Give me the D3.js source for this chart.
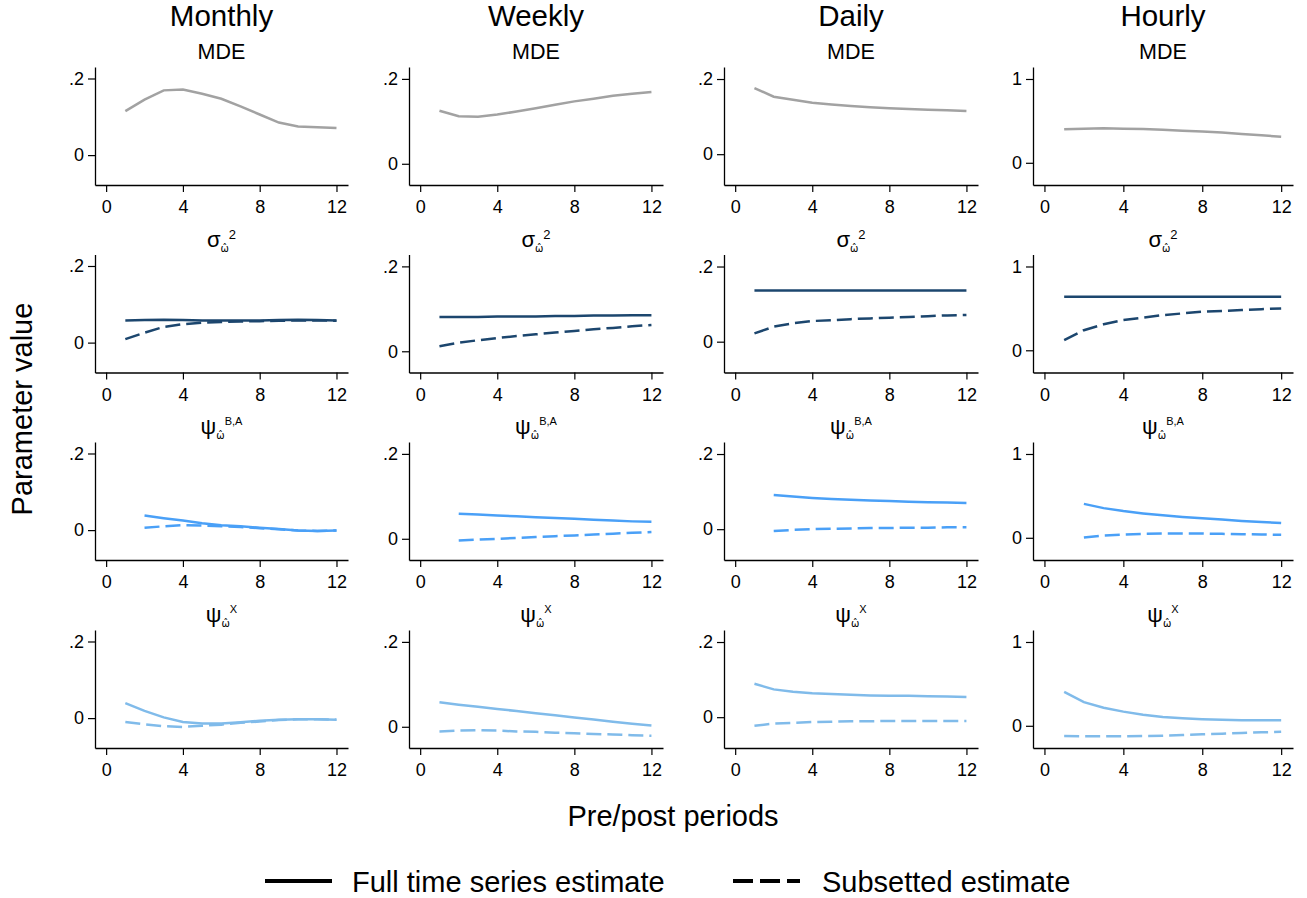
<!DOCTYPE html>
<html>
<head>
<meta charset="utf-8">
<script src="https://cdn.jsdelivr.net/npm/d3@7"></script>
<style>
  html, body { margin: 0; padding: 0; background: #fff; }
  svg { display: block; font-family: "Liberation Sans", Arial, Helvetica, sans-serif; }
</style>
</head>
<body>
<svg id="chart" width="1307" height="898"></svg>
<script>
// ---------------- DATA ----------------
const periods = [1, 2, 3, 4, 5, 6, 7, 8, 9, 10, 11, 12];
const columns = ["Monthly", "Weekly", "Daily", "Hourly"];
const yTickValues = [[0, 0.2], [0, 0.2], [0, 0.2], [0, 1]];
const yTickLabels = [["0", ".2"], ["0", ".2"], ["0", ".2"], ["0", "1"]];
const xTickValues = [0, 4, 8, 12];
const legendLabels = ["Full time series estimate", "Subsetted estimate"];

// MDE (full only)
const mdeMonthly = [0.115, 0.145, 0.169, 0.171, 0.160, 0.147, 0.127, 0.106, 0.085, 0.075, 0.073, 0.071];
const mdeWeekly  = [0.125, 0.112, 0.111, 0.116, 0.123, 0.131, 0.139, 0.147, 0.153, 0.160, 0.165, 0.169];
const mdeDaily   = [0.176, 0.153, 0.145, 0.137, 0.132, 0.128, 0.125, 0.122, 0.120, 0.118, 0.117, 0.115];
const mdeHourly  = [0.399, 0.407, 0.411, 0.407, 0.403, 0.395, 0.383, 0.372, 0.360, 0.344, 0.328, 0.312];

// sigma^2
const sigmaFullMonthly = [0.058, 0.059, 0.060, 0.059, 0.058, 0.058, 0.058, 0.058, 0.059, 0.060, 0.059, 0.058];
const sigmaSubMonthly  = [0.009, 0.026, 0.041, 0.048, 0.052, 0.054, 0.055, 0.056, 0.057, 0.058, 0.058, 0.057];
const sigmaFullWeekly  = [0.081, 0.081, 0.081, 0.082, 0.082, 0.082, 0.083, 0.083, 0.084, 0.084, 0.085, 0.085];
const sigmaSubWeekly   = [0.012, 0.020, 0.026, 0.031, 0.036, 0.040, 0.044, 0.048, 0.052, 0.055, 0.059, 0.062];
const sigmaFullDaily   = [0.136, 0.136, 0.136, 0.136, 0.136, 0.136, 0.136, 0.136, 0.136, 0.136, 0.136, 0.136];
const sigmaSubDaily    = [0.022, 0.040, 0.049, 0.055, 0.057, 0.060, 0.062, 0.064, 0.066, 0.068, 0.070, 0.071];
const sigmaFullHourly  = [0.64, 0.64, 0.64, 0.64, 0.64, 0.64, 0.64, 0.64, 0.64, 0.64, 0.64, 0.64];
const sigmaSubHourly   = [0.12, 0.24, 0.31, 0.36, 0.39, 0.42, 0.44, 0.46, 0.47, 0.48, 0.49, 0.50];

// psi^{B,A} (starts at period 2)
const psiBAFullMonthly = [null, 0.038, 0.031, 0.025, 0.018, 0.013, 0.010, 0.006, 0.003, -0.001, -0.002, -0.001];
const psiBASubMonthly  = [null, 0.006, 0.010, 0.013, 0.012, 0.010, 0.008, 0.005, 0.002, -0.001, -0.002, -0.001];
const psiBAFullWeekly  = [null, 0.059, 0.057, 0.055, 0.053, 0.051, 0.049, 0.047, 0.045, 0.043, 0.041, 0.040];
const psiBASubWeekly   = [null, -0.004, -0.002, 0.000, 0.002, 0.004, 0.006, 0.008, 0.010, 0.012, 0.014, 0.016];
const psiBAFullDaily   = [null, 0.091, 0.087, 0.083, 0.080, 0.078, 0.076, 0.075, 0.073, 0.072, 0.071, 0.070];
const psiBASubDaily    = [null, -0.005, -0.002, 0.000, 0.001, 0.002, 0.003, 0.003, 0.004, 0.004, 0.005, 0.005];
const psiBAFullHourly  = [null, 0.405, 0.354, 0.319, 0.291, 0.268, 0.248, 0.232, 0.217, 0.201, 0.189, 0.177];
const psiBASubHourly   = [null, 0.004, 0.028, 0.039, 0.047, 0.051, 0.051, 0.051, 0.047, 0.043, 0.039, 0.035];

// psi^X
const psiXFullMonthly = [0.039, 0.019, 0.002, -0.010, -0.014, -0.014, -0.011, -0.007, -0.004, -0.003, -0.003, -0.004];
const psiXSubMonthly  = [-0.010, -0.016, -0.021, -0.023, -0.020, -0.017, -0.012, -0.009, -0.005, -0.003, -0.003, -0.004];
const psiXFullWeekly  = [0.058, 0.052, 0.047, 0.042, 0.037, 0.032, 0.027, 0.022, 0.017, 0.012, 0.007, 0.003];
const psiXSubWeekly   = [-0.011, -0.009, -0.008, -0.009, -0.011, -0.012, -0.014, -0.015, -0.017, -0.018, -0.020, -0.021];
const psiXFullDaily   = [0.089, 0.074, 0.068, 0.064, 0.062, 0.060, 0.058, 0.057, 0.057, 0.056, 0.055, 0.054];
const psiXSubDaily    = [-0.023, -0.017, -0.015, -0.013, -0.012, -0.011, -0.011, -0.010, -0.010, -0.010, -0.010, -0.010];
const psiXFullHourly  = [0.404, 0.282, 0.216, 0.169, 0.133, 0.106, 0.090, 0.078, 0.071, 0.067, 0.067, 0.067];
const psiXSubHourly   = [-0.122, -0.125, -0.125, -0.125, -0.122, -0.118, -0.110, -0.102, -0.094, -0.086, -0.078, -0.071];

// Table built from the arrays: rows x columns -> {full, sub}
const panelData = [
  [ {full: mdeMonthly}, {full: mdeWeekly}, {full: mdeDaily}, {full: mdeHourly} ],
  [ {full: sigmaFullMonthly, sub: sigmaSubMonthly}, {full: sigmaFullWeekly, sub: sigmaSubWeekly},
    {full: sigmaFullDaily, sub: sigmaSubDaily}, {full: sigmaFullHourly, sub: sigmaSubHourly} ],
  [ {full: psiBAFullMonthly, sub: psiBASubMonthly}, {full: psiBAFullWeekly, sub: psiBASubWeekly},
    {full: psiBAFullDaily, sub: psiBASubDaily}, {full: psiBAFullHourly, sub: psiBASubHourly} ],
  [ {full: psiXFullMonthly, sub: psiXSubMonthly}, {full: psiXFullWeekly, sub: psiXSubWeekly},
    {full: psiXFullDaily, sub: psiXSubDaily}, {full: psiXFullHourly, sub: psiXSubHourly} ]
];

// ---------------- LAYOUT / STYLE ----------------
const rowColors = ["#a2a2a2", "#1c466e", "#4aa0f7", "#80bbea"];
const colLeft  = [95, 409, 724, 1033];
const colRight = [348, 663, 978, 1293];
const yDomains = [[-0.078, 0.230], [-0.050, 0.228], [-0.082, 0.232], [-0.265, 1.143]];
const rowTop = [67, 254.5, 442, 630];
const plotH = 118;
const xDomain = [-0.58, 12.6];
const dash = "15,6";

const svg = d3.select("#chart");

// Row title builders (with sub/superscripts)
function rowTitle(g, r, cx, y) {
  const t = g.append("text").attr("x", cx).attr("y", y)
    .attr("text-anchor", "middle").attr("fill", "#000");
  if (r === 0) {
    t.attr("font-size", 21.5).text("MDE");
    return;
  }
  const main = r === 1 ? "σ" : "ψ";
  const sup  = r === 1 ? "2" : (r === 2 ? "B,A" : "X");
  t.append("tspan").attr("font-size", 22).text(main);
  t.append("tspan").attr("font-size", 10).attr("dy", 5)
    .attr("font-family", "DejaVu Sans").text("ω\u0302");
  t.append("tspan").attr("font-size", r === 1 ? 13 : 11).attr("dy", r === 1 ? -13 : -14).text(sup);
}

columns.forEach((colName, c) => {
  const x = d3.scaleLinear().domain(xDomain).range([colLeft[c], colRight[c]]);
  const cx = (colLeft[c] + colRight[c]) / 2;

  // column title
  svg.append("text").attr("x", cx).attr("y", 26)
    .attr("text-anchor", "middle").attr("font-size", 29.5).attr("fill", "#000")
    .text(colName);

  panelData.forEach((rowArr, r) => {
    const top = rowTop[r];
    const y = d3.scaleLinear().domain(yDomains[c]).range([top + plotH, top]);
    const g = svg.append("g");

    rowTitle(g, r, cx, top - 8);

    // axes
    const xAxis = d3.axisBottom(x).tickValues(xTickValues).tickSize(7).tickSizeOuter(0).tickPadding(4)
      .tickFormat(d3.format("d"));
    const gx = g.append("g").attr("transform", `translate(0,${top + plotH})`).call(xAxis);
    const labels = yTickLabels[c];
    const yAxis = d3.axisLeft(y).tickValues(yTickValues[c]).tickSize(7).tickSizeOuter(0).tickPadding(4)
      .tickFormat((d, i) => labels[i]);
    const gy = g.append("g").attr("transform", `translate(${colLeft[c]},0)`).call(yAxis);
    [gx, gy].forEach(ax => {
      ax.attr("font-family", null).attr("font-size", 18);
      ax.selectAll("path.domain").attr("stroke", "#000").attr("stroke-width", 1.3);
      ax.selectAll(".tick line").attr("stroke", "#000").attr("stroke-width", 1.2);
      ax.selectAll(".tick text").attr("fill", "#000");
    });
    gx.selectAll(".tick text").attr("dy", "0.95em");

    // lines
    const line = d3.line()
      .defined(d => d[1] !== null)
      .x(d => x(d[0]))
      .y(d => y(d[1]));
    const cell = rowArr[c];
    if (cell.sub) {
      g.append("path").datum(periods.map((p, i) => [p, cell.sub[i]]))
        .attr("d", line).attr("fill", "none").attr("stroke", rowColors[r])
        .attr("stroke-width", 2.5).attr("stroke-dasharray", dash);
    }
    g.append("path").datum(periods.map((p, i) => [p, cell.full[i]]))
      .attr("d", line).attr("fill", "none").attr("stroke", rowColors[r])
      .attr("stroke-width", 2.5);
  });
});

// axis titles
svg.append("text").attr("x", 673).attr("y", 826).attr("text-anchor", "middle")
  .attr("font-size", 29).attr("fill", "#000").text("Pre/post periods");
svg.append("text").attr("transform", "translate(32,409) rotate(-90)").attr("text-anchor", "middle")
  .attr("font-size", 29).attr("fill", "#000").text("Parameter value");

// legend
const legend = svg.append("g");
legend.append("line").attr("x1", 265).attr("x2", 332).attr("y1", 881).attr("y2", 881)
  .attr("stroke", "#000").attr("stroke-width", 4);
legend.append("text").attr("x", 352).attr("y", 892).attr("font-size", 29).attr("fill", "#000")
  .text(legendLabels[0]);
legend.append("line").attr("x1", 733).attr("x2", 800).attr("y1", 881).attr("y2", 881)
  .attr("stroke", "#000").attr("stroke-width", 4).attr("stroke-dasharray", "20,7");
legend.append("text").attr("x", 822).attr("y", 892).attr("font-size", 29).attr("fill", "#000")
  .text(legendLabels[1]);
</script>
</body>
</html>
